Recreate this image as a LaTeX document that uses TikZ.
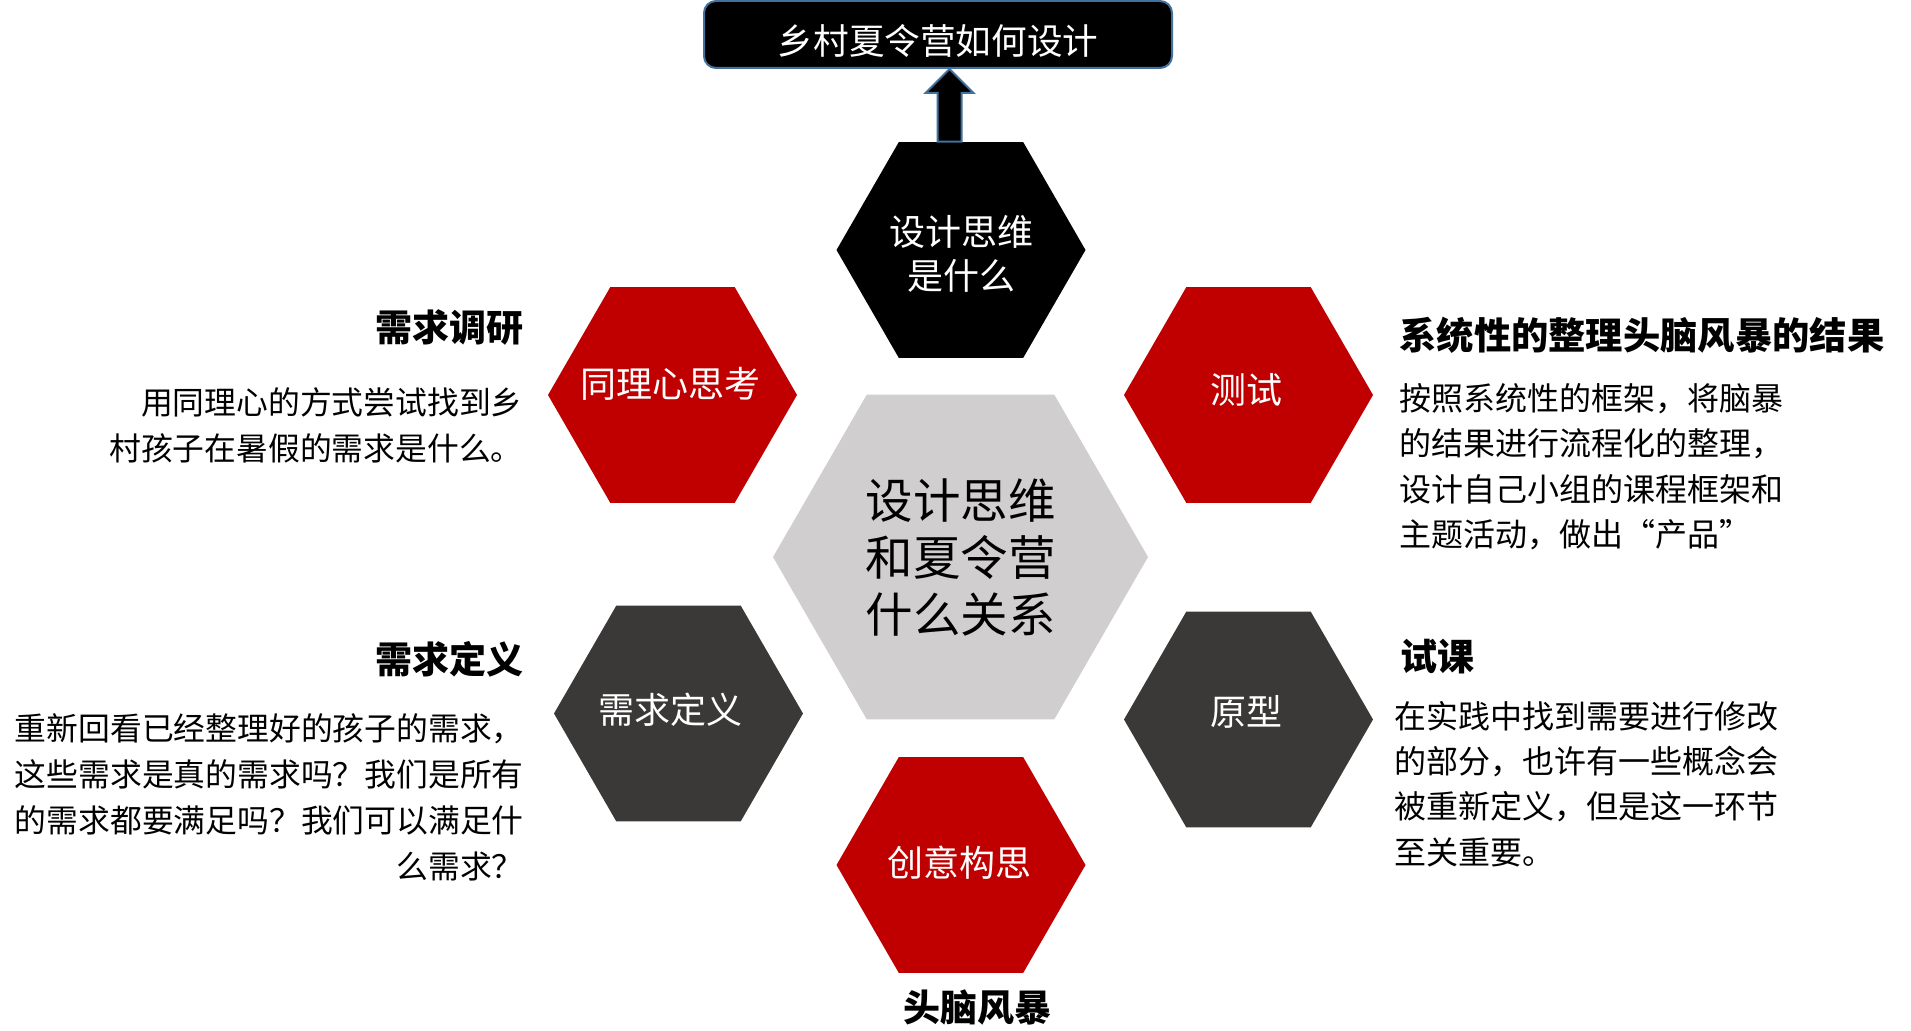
\documentclass[tikz,border=0pt]{standalone}
\usepackage{fontspec}
\setmainfont{Noto Sans CJK SC}
\usetikzlibrary{shapes.geometric,calc}
\definecolor{hxRed}  {HTML}{C00000}
\definecolor{hxDark} {HTML}{3B3838}
\definecolor{hxGrey} {HTML}{D0CECE}
\definecolor{hxEdge} {HTML}{41719C}

\begin{document}
\begin{tikzpicture}[x=0.5pt,y=-0.5pt,
      hexa/.style={regular polygon,regular polygon sides=6,minimum size=124.5pt,
                   inner sep=0pt},
      hexlabel/.style={inner sep=0pt,text=white,align=center,
                       font=\fontsize{18}{22}\selectfont},
      head/.style={inner sep=0pt,font=\fontsize{18.5}{21}\selectfont\bfseries},
      body/.style={inner sep=0pt,font=\fontsize{15.9}{23}\selectfont},
      blockarrow/.style={fill=black,draw=hxEdge,line width=1pt}]
    \useasboundingbox (0,0) rectangle (1911,1031);

    % question on top
    \node[fill=black,draw=hxEdge,line width=1pt,rounded corners=6pt,
          minimum width=234pt,minimum height=33.5pt,text=white,
          text height=19.6pt,text depth=0pt,
          font=\fontsize{17.8}{20}\selectfont] (title) at (938,34.5)
      {乡村夏令营如何设计};

    % hexagons
    \node[hexa,fill=hxGrey,minimum size=187.5pt,align=center,
          font=\fontsize{23.75}{28.5}\selectfont] (core) at (960.5,557)
      {设计思维\\和夏令营\\什么关系};
    \node[hexa,fill=black] (think) at (961,250) {};
    \node[hexa,fill=hxRed] (empathy) at (672.5,395) {};
    \node[hexa,fill=hxRed] (test) at (1248.5,395) {};
    \node[hexa,fill=hxDark] (define) at (678.5,713.5) {};
    \node[hexa,fill=hxDark] (proto) at (1248.5,719.5) {};
    \node[hexa,fill=hxRed] (ideate) at (961,865) {};

    \node[hexlabel] (think-t) at (961,254) {设计思维\\是什么};
    \node[hexlabel] (empathy-t) at (670,384) {同理心思考};
    \node[hexlabel] (test-t) at (1246,390) {测试};
    \node[hexlabel] (define-t) at (670,709.5) {需求定义};
    \node[hexlabel] (proto-t) at (1246,712) {原型};
    \node[hexlabel] (ideate-t) at (959,863) {创意构思};

    \draw[blockarrow] let \p1=($(think.north)!0.5!(title.south)$),
                          \p2=(think.north), \p3=(title.south) in
      (\x1-6pt,\y2) -- (\x1-6pt,\y3-12pt) -- (\x1-12pt,\y3-12pt) -- (\x1,\y3)
      -- (\x1+12pt,\y3-12pt) -- (\x1+6pt,\y3-12pt) -- (\x1+6pt,\y2) -- cycle;

    % notes, left
    \node[head,anchor=east] (researchhead) at (524,327) {需求调研};
    \node[body,anchor=east,align=right] (researchtext) at (523,425)
      {用同理心的方式尝试找到乡\\村孩子在暑假的需求是什么。};
    \node[head,anchor=east] (definehead) at (524,659) {需求定义};
    \node[body,anchor=east,align=right] (definetext) at (524,797.5)
      {重新回看已经整理好的孩子的需求，\\这些需求是真的需求吗？我们是所有\\的需求都要满足吗？我们可以满足什\\么需求？};

    % notes, right
    \node[head,anchor=west,font=\fontsize{18.65}{21}\selectfont\bfseries]
      (sorthead) at (1399,335) {系统性的整理头脑风暴的结果};
    \node[body,anchor=west,align=left,font=\fontsize{16}{22.7}\selectfont]
      (sorttext) at (1399,466.5)
      {按照系统性的框架，将脑暴\\的结果进行流程化的整理，\\设计自己小组的课程框架和\\主题活动，做出“产品”};
    \node[head,anchor=west] (trialhead) at (1400,657) {试课};
    \node[body,anchor=west,align=left,font=\fontsize{16}{22.7}\selectfont]
      (trialtext) at (1394,784)
      {在实践中找到需要进行修改\\的部分，也许有一些概念会\\被重新定义，但是这一环节\\至关重要。};

    \node[head] (stormhead) at (977,1007) {头脑风暴};
  \end{tikzpicture}
\end{document}
